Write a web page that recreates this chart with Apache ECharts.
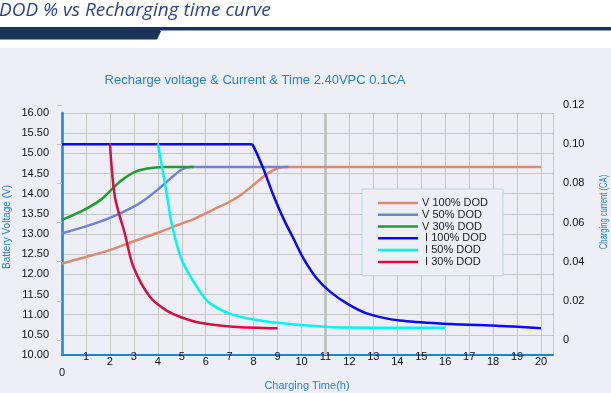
<!DOCTYPE html>
<html>
<head>
<meta charset="utf-8">
<script src="https://cdn.jsdelivr.net/npm/echarts@6/dist/echarts.min.js"></script>
<style>
html,body{margin:0;padding:0;background:#ffffff;}
#c{width:611px;height:393px;}
</style>
</head>
<body>
<div id="c"></div>
<script>
// ---- data ----
var seriesNames = ['V 100% DOD', 'V 50% DOD', 'V 30% DOD', ' I 100% DOD', ' I 50% DOD', ' I 30% DOD'];
var seriesColors = ['#dd8a6e', '#6f83d6', '#1e9e30', '#0a0af2', '#00f5f5', '#d3103e'];

// voltage curves: [time h, volts]
var v100 = [[0,12.27],[1,12.43],[2,12.6],[3,12.82],[4,13.03],[5,13.26],[5.5,13.37],[6.3,13.6],[7,13.8],[7.45,13.96],[8,14.22],[8.5,14.46],[9,14.63],[9.4,14.66],[10,14.66],[20,14.66]];
var v50  = [[0,13.02],[1,13.19],[2,13.4],[3,13.68],[3.5,13.87],[4,14.1],[4.5,14.36],[5,14.6],[5.4,14.66],[6,14.66],[9.45,14.66]];
var v30  = [[0,13.35],[0.8,13.56],[1.6,13.84],[2.1,14.12],[2.5,14.34],[3,14.53],[3.5,14.62],[4.3,14.66],[5.5,14.66]];

// current curves: [time h, CA]
var i100 = [[0,0.1],[7.9,0.1],[7.97,0.0995],[8.4,0.0877],[8.82,0.074],[9.24,0.0621],[9.66,0.0519],[10.08,0.0417],[10.63,0.0315],[11.19,0.0247],[11.89,0.0187],[12.72,0.0136],[14.1,0.0099],[16.2,0.0082],[18.3,0.0072],[20,0.006]];
var i50  = [[4,0.1005],[4.37,0.0749],[4.58,0.0595],[5.0,0.0409],[5.76,0.0247],[6.18,0.0187],[7.15,0.0128],[8.55,0.0094],[9.94,0.0077],[11.3,0.0065],[13.5,0.0063],[16,0.0063]];
var i30  = [[2,0.1005],[2.21,0.073],[2.63,0.054],[2.98,0.0374],[3.67,0.0221],[4.37,0.015],[5.0,0.0115],[5.76,0.0088],[7.15,0.0068],[9,0.006]];

var xMin = 0, xMax = 20.5, xStep = 1;
var vMin = 10, vMax = 16, vStep = 0.5;
var iMin = 0, iMax = 0.12, iStep = 0.02;

var pageTitle = 'DOD % vs Recharging time curve';
var chartTitle = 'Recharge voltage & Current & Time 2.40VPC 0.1CA';
var xName = 'Charging Time(h)';
var yLeftName = 'Battery Voltage (V)';
var yRightName = 'Charging current (CA)';

var FONT = '"Liberation Sans", Arial, sans-serif';
var BLUE_TXT = '#1f86d2';
var AXIS_BLUE = '#1a86d0';
var GRIDC = '#c6c6c6';

function mkSeries(idx, data, grid) {
  return {
    name: seriesNames[idx],
    type: 'line',
    data: data,
    xAxisIndex: grid,
    yAxisIndex: grid,
    symbol: 'none',
    smooth: 0.3,
    lineStyle: { color: seriesColors[idx], width: 2.5 },
    itemStyle: { color: seriesColors[idx] },
    z: 3
  };
}

var series = [
  mkSeries(0, v100, 0), mkSeries(1, v50, 0), mkSeries(2, v30, 0),
  mkSeries(3, i100, 1), mkSeries(4, i50, 1), mkSeries(5, i30, 1)
];
series[0].markLine = {
  silent: true, symbol: ['none','none'], z: 1,
  label: { show: false },
  lineStyle: { color: '#bcbcbc', width: 2.5, type: 'solid' },
  data: [{ xAxis: 11 }]
};

var chart = echarts.init(document.getElementById('c'), null, { renderer: 'canvas' });
chart.setOption({
  backgroundColor: '#ffffff',
  animation: false,
  textStyle: { fontFamily: FONT },
  graphic: [
    { type: 'rect', shape: { x: 0, y: 48, width: 611, height: 345 }, style: { fill: '#eeeef6' }, z: -10, silent: true },
    { type: 'polygon', shape: { points: [[0,27],[163,27],[157,39.5],[0,39.5]] }, style: { fill: '#1b3259' }, z: 10 },
    { type: 'rect', shape: { x: 160, y: 27, width: 451, height: 3 }, style: { fill: '#1b3259' }, z: 10 },
    { type: 'rect', shape: { x: 160, y: 30, width: 451, height: 1 }, style: { fill: '#8f9ab6' }, z: 10 },
    { type: 'text', x: -1, y: 1, style: { text: pageTitle, font: 'italic 19px "Open Sans", sans-serif', fill: '#2d4391' }, z: 10 },
    { type: 'text', x: 255, y: 80, style: { text: chartTitle, font: '13px ' + FONT, fill: BLUE_TXT, textAlign: 'center', textVerticalAlign: 'middle' }, z: 10 },
    { type: 'text', x: 307, y: 386, style: { text: xName, font: '11px ' + FONT, fill: BLUE_TXT, textAlign: 'center', textVerticalAlign: 'middle' }, z: 10 },
    { type: 'text', x: 7, y: 227, rotation: Math.PI / 2, style: { text: yLeftName, font: '10px ' + FONT, fill: BLUE_TXT, textAlign: 'center', textVerticalAlign: 'middle' }, z: 10 },
    { type: 'text', x: 604, y: 212, rotation: Math.PI / 2, scaleX: 0.76, style: { text: yRightName, font: '10px ' + FONT, fill: BLUE_TXT, textAlign: 'center', textVerticalAlign: 'middle' }, z: 10 }
  ],
  legend: {
    data: seriesNames,
    orient: 'vertical',
    left: 362,
    top: 189,
    padding: [8, 15, 8, 16],
    icon: 'rect',
    itemWidth: 40,
    itemHeight: 2.5,
    itemGap: 0,
    backgroundColor: '#eeeef6',
    borderColor: '#b9d3db',
    borderWidth: 1,
    borderRadius: 0,
    textStyle: { fontSize: 11, color: '#222', fontFamily: FONT, lineHeight: 11.8, padding: [0,0,0,-1] }
  },
  grid: [
    { left: 62, right: 58, top: 113, bottom: 38, containLabel: false },
    { left: 62, right: 58, top: 105, bottom: 53, containLabel: false }
  ],
  xAxis: [
    {
      type: 'value', gridIndex: 0, min: xMin, max: xMax, interval: xStep,
      axisLine: { show: true, onZero: false, lineStyle: { color: AXIS_BLUE, width: 2 } },
      axisTick: { show: false },
      splitLine: { show: true, lineStyle: { color: GRIDC, width: 1 } },
      axisLabel: {
        margin: -4, fontSize: 11, color: '#111', fontFamily: FONT,
        formatter: function (v) {
          if (Math.abs(v - Math.round(v)) > 1e-6) return '';
          v = Math.round(v);
          if (v === 0) return '{z|0}';
          return (v % 2 === 1 ? '{o|' : '{e|') + v + '}';
        },
        rich: {
          z: { fontSize: 11, color: '#111', padding: [16, 0, 0, 0] },
          o: { fontSize: 11, color: '#111', padding: [0, 0, 0, 0] },
          e: { fontSize: 11, color: '#111', padding: [5, 0, 0, 0] }
        }
      }
    },
    {
      type: 'value', gridIndex: 1, min: xMin, max: xMax, interval: xStep, show: false,
      splitLine: { show: false }
    }
  ],
  yAxis: [
    {
      type: 'value', gridIndex: 0, position: 'left', min: vMin, max: vMax, interval: vStep,
      axisLine: { show: true, lineStyle: { color: AXIS_BLUE, width: 2.5 } },
      axisTick: { show: false },
      splitLine: { show: true, lineStyle: { color: GRIDC, width: 1 } },
      axisLabel: { margin: 13, fontSize: 11, color: '#111', fontFamily: FONT, formatter: function (v) { return v.toFixed(2); } }
    },
    {
      type: 'value', gridIndex: 1, position: 'right', min: iMin, max: iMax, interval: iStep,
      axisLine: { show: false },
      axisTick: { show: true, inside: true, length: 5, lineStyle: { color: GRIDC } },
      splitLine: { show: false },
      axisLabel: { margin: 10, fontSize: 11, color: '#111', fontFamily: FONT, formatter: function (v) { return v < 1e-9 ? '0' : v.toFixed(2); } }
    }
  ],
  series: series
});
</script>
</body>
</html>
